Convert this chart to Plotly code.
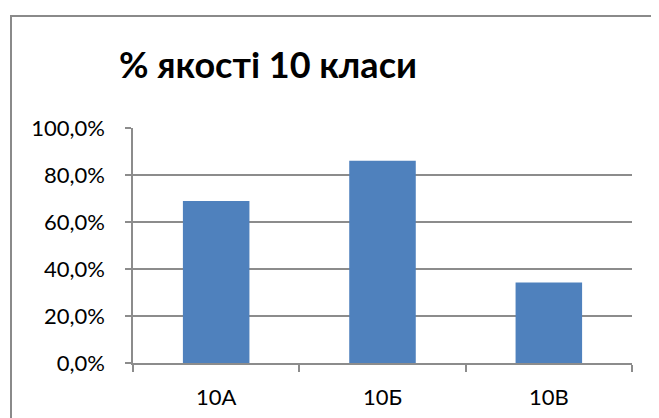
import plotly.graph_objects as go

categories = ["10А", "10Б", "10В"]
values = [0.689, 0.861, 0.343]
title_text = "% якості 10 класи"

W, H = 659, 418
O = 8  # page body offset
ml, mr, mt, mb = 133 - O, 659 - (632 - O), 128 - O, 418 - (363 - O)
pw, ph = W - ml - mr, H - mt - mb

fig = go.Figure(go.Bar(x=categories, y=values, marker=dict(color="#4F81BD", line=dict(width=0))))

def px_x(x):
    return (x - O - ml) / pw

def px_y(y):
    return (H - mb - (y - O)) / ph

FONT = "Lato"
fig.update_layout(
    width=W, height=H,
    margin=dict(l=ml, r=mr, t=mt, b=mb),
    paper_bgcolor="white", plot_bgcolor="white",
    separators=", ",
    bargap=0.6,
    showlegend=False,
    font=dict(family=FONT, size=22, color="black"),
    xaxis=dict(showline=True, linecolor="#8c8c8c", linewidth=1.5,
               ticks="outside", ticklen=7, tickcolor="#8c8c8c", tickwidth=1.5,
               tickson="boundaries", ticklabelstandoff=14,
               tickfont=dict(size=22, family=FONT)),
    yaxis=dict(range=[0, 1.0], dtick=0.2, tickformat=".1%",
               showline=True, linecolor="#8c8c8c", linewidth=1.5,
               ticks="outside", ticklen=6, tickcolor="#8c8c8c", tickwidth=1.5,
               showgrid=True, gridcolor="#8c8c8c", gridwidth=1.5,
               zeroline=False, ticklabelstandoff=16,
               tickfont=dict(size=22, family=FONT)),
    annotations=[dict(text="<b>" + title_text + "</b>", xref="paper", yref="paper",
                      x=px_x(268), y=px_y(64), xanchor="center", yanchor="middle",
                      showarrow=False, font=dict(size=36, family=FONT, color="black"))],
    shapes=[dict(type="rect", xref="paper", yref="paper",
                 x0=px_x(11), x1=px_x(700), y0=px_y(460), y1=px_y(16),
                 line=dict(color="#8a8a8a", width=2), fillcolor="rgba(0,0,0,0)", layer="below")],
)

fig.write_html("out.html")
